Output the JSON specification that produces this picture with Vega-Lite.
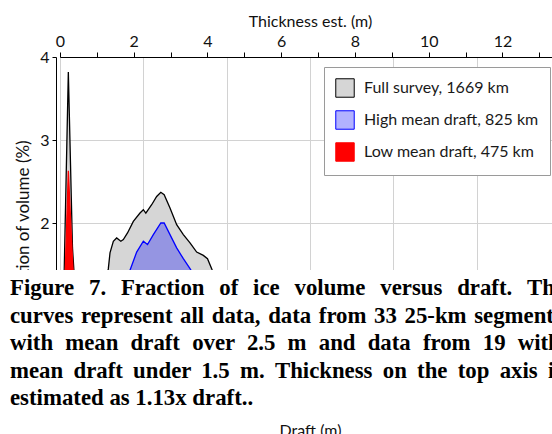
{
  "$schema": "https://vega.github.io/schema/vega-lite/v6.json",
  "autosize": {"type": "none"},
  "padding": {"left": 60, "top": 57, "right": -8, "bottom": 45},
  "width": 500,
  "height": 332,
  "background": "white",
  "config": {"view": {"stroke": null}},
  "datasets": {
    "curves": [
      {"series": "Full survey, 1669 km", "draft": 0, "pct": 0},
      {"series": "Full survey, 1669 km", "draft": 0.1, "pct": 1.4},
      {"series": "Full survey, 1669 km", "draft": 0.2, "pct": 3.82},
      {"series": "Full survey, 1669 km", "draft": 0.3, "pct": 1.7},
      {"series": "Full survey, 1669 km", "draft": 0.4, "pct": 0.9},
      {"series": "Full survey, 1669 km", "draft": 0.5, "pct": 0.62},
      {"series": "Full survey, 1669 km", "draft": 0.6, "pct": 0.52},
      {"series": "Full survey, 1669 km", "draft": 0.7, "pct": 0.55},
      {"series": "Full survey, 1669 km", "draft": 0.8, "pct": 0.68},
      {"series": "Full survey, 1669 km", "draft": 0.9, "pct": 0.86},
      {"series": "Full survey, 1669 km", "draft": 1.0, "pct": 1.06},
      {"series": "Full survey, 1669 km", "draft": 1.1, "pct": 1.28},
      {"series": "Full survey, 1669 km", "draft": 1.16, "pct": 1.45},
      {"series": "Full survey, 1669 km", "draft": 1.2, "pct": 1.64},
      {"series": "Full survey, 1669 km", "draft": 1.28, "pct": 1.78},
      {"series": "Full survey, 1669 km", "draft": 1.36, "pct": 1.82},
      {"series": "Full survey, 1669 km", "draft": 1.46, "pct": 1.78},
      {"series": "Full survey, 1669 km", "draft": 1.52, "pct": 1.8},
      {"series": "Full survey, 1669 km", "draft": 1.62, "pct": 1.88},
      {"series": "Full survey, 1669 km", "draft": 1.76, "pct": 2.02},
      {"series": "Full survey, 1669 km", "draft": 1.92, "pct": 2.12},
      {"series": "Full survey, 1669 km", "draft": 2.0, "pct": 2.16},
      {"series": "Full survey, 1669 km", "draft": 2.06, "pct": 2.12},
      {"series": "Full survey, 1669 km", "draft": 2.2, "pct": 2.22},
      {"series": "Full survey, 1669 km", "draft": 2.32, "pct": 2.32},
      {"series": "Full survey, 1669 km", "draft": 2.42, "pct": 2.37},
      {"series": "Full survey, 1669 km", "draft": 2.5, "pct": 2.34},
      {"series": "Full survey, 1669 km", "draft": 2.64, "pct": 2.18},
      {"series": "Full survey, 1669 km", "draft": 2.8, "pct": 1.98},
      {"series": "Full survey, 1669 km", "draft": 2.96, "pct": 1.86},
      {"series": "Full survey, 1669 km", "draft": 3.12, "pct": 1.76},
      {"series": "Full survey, 1669 km", "draft": 3.28, "pct": 1.65},
      {"series": "Full survey, 1669 km", "draft": 3.44, "pct": 1.61},
      {"series": "Full survey, 1669 km", "draft": 3.54, "pct": 1.57},
      {"series": "Full survey, 1669 km", "draft": 3.64, "pct": 1.45},
      {"series": "Full survey, 1669 km", "draft": 3.8, "pct": 1.22},
      {"series": "Full survey, 1669 km", "draft": 4.0, "pct": 0.98},
      {"series": "Full survey, 1669 km", "draft": 4.3, "pct": 0.72},
      {"series": "Full survey, 1669 km", "draft": 4.6, "pct": 0.52},
      {"series": "Full survey, 1669 km", "draft": 5.0, "pct": 0.36},
      {"series": "Full survey, 1669 km", "draft": 5.5, "pct": 0.24},
      {"series": "Full survey, 1669 km", "draft": 6.0, "pct": 0.16},
      {"series": "Full survey, 1669 km", "draft": 7.0, "pct": 0.08},
      {"series": "Full survey, 1669 km", "draft": 8.0, "pct": 0.04},
      {"series": "Full survey, 1669 km", "draft": 9.0, "pct": 0.02},
      {"series": "Full survey, 1669 km", "draft": 10.0, "pct": 0.01},
      {"series": "Full survey, 1669 km", "draft": 12.0, "pct": 0},
      {"series": "High mean draft, 825 km", "draft": 0, "pct": 0},
      {"series": "High mean draft, 825 km", "draft": 0.2, "pct": 0.25},
      {"series": "High mean draft, 825 km", "draft": 0.5, "pct": 0.3},
      {"series": "High mean draft, 825 km", "draft": 1.0, "pct": 0.55},
      {"series": "High mean draft, 825 km", "draft": 1.3, "pct": 0.85},
      {"series": "High mean draft, 825 km", "draft": 1.5, "pct": 1.1},
      {"series": "High mean draft, 825 km", "draft": 1.68, "pct": 1.43},
      {"series": "High mean draft, 825 km", "draft": 1.84, "pct": 1.65},
      {"series": "High mean draft, 825 km", "draft": 2.0, "pct": 1.78},
      {"series": "High mean draft, 825 km", "draft": 2.1, "pct": 1.74},
      {"series": "High mean draft, 825 km", "draft": 2.24, "pct": 1.86},
      {"series": "High mean draft, 825 km", "draft": 2.42, "pct": 2.0},
      {"series": "High mean draft, 825 km", "draft": 2.5, "pct": 2.0},
      {"series": "High mean draft, 825 km", "draft": 2.64, "pct": 1.86},
      {"series": "High mean draft, 825 km", "draft": 2.8, "pct": 1.7},
      {"series": "High mean draft, 825 km", "draft": 2.96, "pct": 1.57},
      {"series": "High mean draft, 825 km", "draft": 3.12, "pct": 1.45},
      {"series": "High mean draft, 825 km", "draft": 3.3, "pct": 1.3},
      {"series": "High mean draft, 825 km", "draft": 3.6, "pct": 1.1},
      {"series": "High mean draft, 825 km", "draft": 4.0, "pct": 0.85},
      {"series": "High mean draft, 825 km", "draft": 4.5, "pct": 0.6},
      {"series": "High mean draft, 825 km", "draft": 5.0, "pct": 0.42},
      {"series": "High mean draft, 825 km", "draft": 6.0, "pct": 0.2},
      {"series": "High mean draft, 825 km", "draft": 7.0, "pct": 0.1},
      {"series": "High mean draft, 825 km", "draft": 8.0, "pct": 0.05},
      {"series": "High mean draft, 825 km", "draft": 10.0, "pct": 0.01},
      {"series": "High mean draft, 825 km", "draft": 12.0, "pct": 0},
      {"series": "Low mean draft, 475 km", "draft": 0, "pct": 0},
      {"series": "Low mean draft, 475 km", "draft": 0.1, "pct": 1.0},
      {"series": "Low mean draft, 475 km", "draft": 0.2, "pct": 2.63},
      {"series": "Low mean draft, 475 km", "draft": 0.3, "pct": 1.55},
      {"series": "Low mean draft, 475 km", "draft": 0.4, "pct": 0.7},
      {"series": "Low mean draft, 475 km", "draft": 0.6, "pct": 0.5},
      {"series": "Low mean draft, 475 km", "draft": 0.8, "pct": 0.6},
      {"series": "Low mean draft, 475 km", "draft": 1.0, "pct": 0.7},
      {"series": "Low mean draft, 475 km", "draft": 1.2, "pct": 0.6},
      {"series": "Low mean draft, 475 km", "draft": 1.5, "pct": 0.42},
      {"series": "Low mean draft, 475 km", "draft": 2.0, "pct": 0.2},
      {"series": "Low mean draft, 475 km", "draft": 3.0, "pct": 0.05},
      {"series": "Low mean draft, 475 km", "draft": 4.0, "pct": 0.01},
      {"series": "Low mean draft, 475 km", "draft": 5.0, "pct": 0}
    ],
    "caption": [
      {"line": 1, "text": "Figure \u2009\u20097. \u2009\u2009Fraction \u2009\u2009of \u2009\u2009ice \u2009\u2009volume \u2009\u2009versus \u2009\u2009draft. \u2009\u2009The"},
      {"line": 2, "text": "curves \u200arepresent \u200aall \u200adata, \u200adata \u200afrom \u200a33 \u200a25-km \u200asegments"},
      {"line": 3, "text": "with \u2009\u200amean \u2009\u200adraft \u2009\u200aover \u2009\u200a2.5 \u2009\u200am \u2009\u200aand \u2009\u200adata \u2009\u200afrom \u2009\u200a19 \u2009\u200awith"},
      {"line": 4, "text": "mean \u2009draft \u2009under \u20091.5 \u2009m. \u2009Thickness \u2009on \u2009the \u2009top \u2009axis \u2009is"},
      {"line": 5, "text": "estimated as 1.13x draft.."}
    ]
  },
  "layer": [
    {
      "layer": [
        {
          "data": {"name": "curves"},
          "mark": {"type": "area", "strokeWidth": 1.3, "line": false},
          "encoding": {
            "x": {
              "field": "draft", "type": "quantitative",
              "scale": {"domain": [0, 12], "nice": false},
              "axis": {
                "orient": "bottom", "title": "Draft (m)", "values": [0, 2, 4, 6, 8, 10, 12],
                "grid": true, "gridColor": "#d2d2d2", "gridWidth": 1,
                "domainColor": "#000", "tickColor": "#000", "tickSize": 5,
                "labels": false,
                "titleFont": "Lato", "titleFontSize": 16, "titleFontWeight": "normal", "titleColor": "#111",
                "titlePadding": 28
              }
            },
            "y": {
              "field": "pct", "type": "quantitative", "stack": null,
              "scale": {"domain": [0, 4], "nice": false},
              "axis": {
                "orient": "left", "offset": 4, "values": [2, 3, 4],
                "grid": true, "gridColor": "#d2d2d2", "gridWidth": 1,
                "domainColor": "#000", "tickColor": "#000", "tickSize": 4,
                "labelFont": "Lato", "labelFontSize": 16, "labelColor": "#111", "labelPadding": 3,
                "title": "Fraction of volume (%)",
                "titleFont": "Lato", "titleFontSize": 17, "titleFontWeight": "normal", "titleColor": "#111",
                "titlePadding": 7
              }
            },
            "fill": {
              "field": "series", "type": "nominal",
              "scale": {
                "domain": ["Full survey, 1669 km", "High mean draft, 825 km", "Low mean draft, 475 km"],
                "range": ["#d6d6d6", "rgba(0,0,255,0.3)", "#ff0000"]
              },
              "legend": {
                "title": null, "orient": "top-right", "offset": 10, "padding": 11,
                "strokeColor": "#9a9a9a", "fillColor": "white",
                "symbolType": "square", "symbolSize": 340, "symbolStrokeWidth": 1,
                "labelFont": "Lato", "labelFontSize": 16, "labelColor": "#1a1a1a", "labelLimit": 400,
                "rowPadding": 8, "labelOffset": 9
              }
            },
            "stroke": {
              "field": "series", "type": "nominal",
              "scale": {
                "domain": ["Full survey, 1669 km", "High mean draft, 825 km", "Low mean draft, 475 km"],
                "range": ["#000000", "#0000ff", "#ff0000"]
              },
              "legend": {
                "title": null, "orient": "top-right", "offset": 10, "padding": 11,
                "strokeColor": "#9a9a9a", "fillColor": "white",
                "symbolType": "square", "symbolSize": 340, "symbolStrokeWidth": 1,
                "labelFont": "Lato", "labelFontSize": 16, "labelColor": "#1a1a1a", "labelLimit": 400,
                "rowPadding": 8, "labelOffset": 9
              }
            }
          }
        },
        {
          "layer": [
            {
              "data": {"values": [{}]},
              "mark": {"type": "rect", "fill": "white", "clip": false},
              "encoding": {
                "x": {"datum": -3, "type": "quantitative"},
                "x2": {"datum": 14},
                "y": {"datum": 0.09, "type": "quantitative", "scale": {"domain": [-7.6545, 4.418], "nice": false, "reverse": true, "zero": false}, "axis": null},
                "y2": {"datum": 5.4}
              }
            },
            {
              "data": {"name": "caption"},
              "mark": {"type": "text", "align": "left", "baseline": "alphabetic", "font": "'Liberation Serif', 'Times New Roman', 'DejaVu Serif', serif", "fontWeight": "bold", "fontSize": 22.8, "color": "#000", "clip": false},
              "encoding": {
                "x": {"datum": -1.2, "type": "quantitative"},
                "y": {"field": "line", "type": "quantitative", "scale": {"domain": [-7.6545, 4.418], "nice": false, "reverse": true, "zero": false}, "axis": null},
                "text": {"field": "text", "type": "nominal"}
              }
            }
          ]
        }
      ],
      "resolve": {"scale": {"y": "independent"}}
    },
    {
      "data": {"values": [{"t": 0}]},
      "mark": {"type": "point", "opacity": 0},
      "encoding": {
        "x": {
          "field": "t", "type": "quantitative",
          "scale": {"domain": [0, 13.56], "nice": false},
          "axis": {
            "orient": "top", "title": "Thickness est. (m)", "values": [0, 1, 2, 3, 4, 5, 6, 7, 8, 9, 10, 11, 12, 13],
            "labelExpr": "datum.value % 2 === 0 ? datum.label : ''",
            "grid": false, "domainColor": "#000", "tickColor": "#000", "tickSize": 5,
            "labelFont": "Lato", "labelFontSize": 16, "labelColor": "#111", "labelFlush": false, "labelPadding": 3,
            "titleFont": "Lato", "titleFontSize": 16, "titleFontWeight": "normal", "titleColor": "#111",
            "titlePadding": 4
          }
        }
      }
    }
  ],
  "resolve": {"scale": {"x": "independent", "y": "independent"}}
}
